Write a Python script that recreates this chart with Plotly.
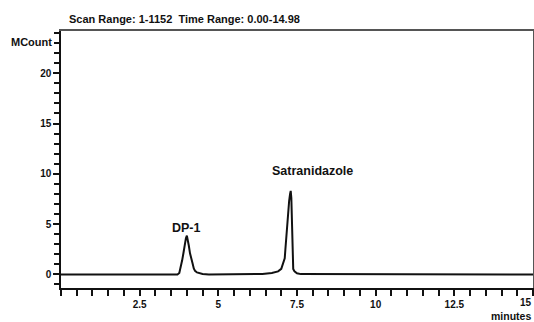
import plotly.graph_objects as go

# Chromatogram trace (time in minutes, signal in MCount)
times = [0.0, 3.70, 3.76, 3.80, 3.85, 3.89, 3.93, 3.97, 4.00, 4.03, 4.06, 4.10, 4.14,
         4.18, 4.22, 4.26, 4.32, 4.40, 4.50, 4.70, 6.00, 6.40, 6.70, 6.90, 7.00,
         7.04, 7.08, 7.11, 7.13, 7.17, 7.21, 7.25, 7.28, 7.30, 7.32, 7.34, 7.35,
         7.36, 7.38, 7.42, 7.50, 7.62, 15.0]
signal = [0.0, 0.0, 0.15, 0.6, 1.4, 2.1, 3.0, 3.6, 3.85, 3.5, 2.9, 2.1, 1.7,
          1.1, 0.6, 0.35, 0.2, 0.12, 0.05, 0.0, 0.0, 0.05, 0.15, 0.3, 0.55,
          0.95, 1.2, 1.6, 2.45, 4.4, 5.8, 7.3, 8.0, 8.3, 7.6, 5.5, 3.0,
          1.2, 0.55, 0.3, 0.12, 0.03, 0.0]

x_ticks = [2.5, 5, 7.5, 10, 12.5, 15]
x_ticklabels = ["2.5", "5", "7.5", "10", "12.5", "15"]
y_ticks = [0, 5, 10, 15, 20]
y_ticklabels = ["0", "5", "10", "15", "20"]

peak_names = ["DP-1", "Satranidazole"]
peak_label_x = [4.0, 7.98]
peak_label_y = [4.65, 10.25]

FONT = "Liberation Sans, Arial, sans-serif"
X_RANGE = [0, 15]
Y_RANGE = [-1.35, 24.2]

fig = go.Figure()
fig.add_trace(go.Scatter(x=times, y=signal, mode="lines",
                         line=dict(color="#111111", width=2), hoverinfo="skip"))
# invisible trace on overlay axes so the gray frame (top/right) is drawn
fig.add_trace(go.Scatter(x=[None], y=[None], xaxis="x2", yaxis="y2",
                         mode="lines", hoverinfo="skip"))

for name, px, py in zip(peak_names, peak_label_x, peak_label_y):
    fig.add_annotation(x=px, y=py, xref="x", yref="y", text="<b>%s</b>" % name,
                       showarrow=False, font=dict(family=FONT, size=12.5, color="#111"),
                       xanchor="center", yanchor="middle")

fig.add_annotation(x=0.0127, y=1.045, xref="paper", yref="paper",
                   text="<b>Scan Range: 1-1152  Time Range: 0.00-14.98</b>",
                   showarrow=False, font=dict(family=FONT, size=11, color="#111"),
                   xanchor="left", yanchor="middle")
fig.add_annotation(x=-0.0148, y=0.958, xref="paper", yref="paper",
                   text="<b>MCount</b>", showarrow=False,
                   font=dict(family=FONT, size=11, color="#111"),
                   xanchor="right", yanchor="middle")
fig.add_annotation(x=1.0, y=-0.108, xref="paper", yref="paper",
                   text="<b>minutes</b>", showarrow=False,
                   font=dict(family=FONT, size=10.5, color="#111"),
                   xanchor="right", yanchor="middle")

# the last x tick label sits against the right edge, right-aligned so it stays visible
x_text = ["<b>%s</b>" % t for t in x_ticklabels]
last_label = x_text[-1]
x_text[-1] = ""
fig.add_annotation(x=X_RANGE[1], y=0, xref="x", yref="paper", text=last_label,
                   showarrow=False, font=dict(family=FONT, size=10, color="#111"),
                   xanchor="right", yanchor="top", yshift=-7, xshift=1)

tick_common = dict(ticks="outside", ticklen=6, tickwidth=1.5, tickcolor="#111",
                   showline=True, linecolor="#111", linewidth=1.5,
                   showgrid=False, zeroline=False, automargin=False,
                   tickfont=dict(family=FONT, size=10, color="#111"))

fig.update_layout(
    width=534, height=322,
    margin=dict(l=61, r=1, t=31, b=34, autoexpand=False),
    paper_bgcolor="white", plot_bgcolor="white",
    showlegend=False,
    font=dict(family=FONT, size=10, color="#111"),
    xaxis=dict(range=X_RANGE, tickvals=x_ticks, ticktext=x_text,
               minor=dict(dtick=0.5, tick0=0, ticks="outside", ticklen=6,
                          tickwidth=1.5, tickcolor="#111", showgrid=False),
               **tick_common),
    yaxis=dict(range=Y_RANGE, tickvals=y_ticks,
               ticktext=["<b>%s</b>" % t for t in y_ticklabels],
               minor=dict(dtick=1, tick0=0, ticks="outside", ticklen=5,
                          tickwidth=1.5, tickcolor="#111", showgrid=False),
               **tick_common),
    xaxis2=dict(range=X_RANGE, overlaying="x", side="top", showline=True,
                linecolor="#555555", linewidth=2, showticklabels=False,
                ticks="", showgrid=False, zeroline=False, anchor="y2",
                automargin=False),
    yaxis2=dict(range=Y_RANGE, overlaying="y", side="right", showline=True,
                linecolor="#555555", linewidth=2, showticklabels=False,
                ticks="", showgrid=False, zeroline=False, anchor="x2",
                automargin=False),
)

fig.write_html("out.html")
